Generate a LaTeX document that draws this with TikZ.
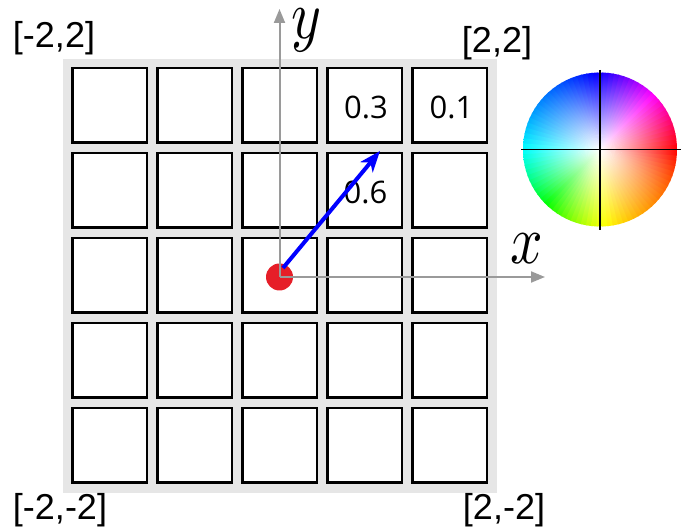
\documentclass[tikz,border=0pt]{standalone}
\usepackage{fontspec}
\usetikzlibrary{arrows.meta}
\newfontfamily\cornerfont{Liberation Sans}
\newfontfamily\cellfont{Open Sans}
\definecolor{bggray}{HTML}{E6E6E6}
\definecolor{axisgray}{HTML}{9A9A9A}
\definecolor{dotred}{HTML}{E61E28}
\begin{document}
\begin{tikzpicture}[x=1pt,y=-1pt,
  cellbox/.style={draw=black, line width=2.5pt, fill=white, minimum size=74.5pt, inner sep=0pt},
  celltext/.style={inner sep=0pt, font=\cellfont\fontsize{31}{31}\selectfont},
  cornerlabel/.style={inner sep=0pt, font=\cornerfont\fontsize{36}{36}\selectfont},
  axislabel/.style={inner sep=0pt},
  axisline/.style={draw=axisgray, line width=2pt, -{Triangle[length=14pt,width=11pt]}},
  vecline/.style={draw=blue, line width=4pt, -{Stealth[length=21pt,width=16pt,inset=6pt]}},
  wheelline/.style={draw=black, line width=1.8pt},
]
\useasboundingbox (0,0) rectangle (681,529);
% board
\fill[bggray] (63,59) rectangle (497,493);
\foreach \i in {0,...,4}{
  \foreach \j in {0,...,4}{
    \node[cellbox] (c-\i-\j) at (109.5+85*\j, 105.5+85*\i) {};
  }
}
\node[celltext] (t03) at ([xshift=1.5pt,yshift=-1.5pt]c-0-3.center) {0.3};
\node[celltext] (t04) at ([xshift=2pt,yshift=-1.5pt]c-0-4.center) {0.1};
\node[celltext] (t13) at ([xshift=1pt,yshift=-1.5pt]c-1-3.center) {0.6};
% origin, axes, vector
\node[circle, fill=dotred, minimum size=27pt, inner sep=0pt] (dot) at (279.5,277) {};
\coordinate (xend) at (545,277);
\coordinate (yend) at (279.5,9);
\coordinate (vtip) at (380,151);
\draw[axisline] (dot.center) -- (xend);
\draw[axisline] (dot.center) -- (yend);
\draw[vecline] ([shift={(3.5,-9)}]dot.center) -- (vtip);
\node[axislabel] (xl) at (527,249) {\scalebox{5.7}[6.9]{$x$}};
\node[axislabel] (yl) at (306,30) {\scalebox{5.7}[6.9]{$y$}};
% corner labels
\node[cornerlabel] (tl) at (54,38) {[-2,2]};
\node[cornerlabel] (tr) at (497,43) {[2,2]};
\node[cornerlabel] (bl) at (60,510) {[-2,-2]};
\node[cornerlabel] (br) at (504,510) {[2,-2]};
% colour wheel
\begin{scope}[shift={(600,149.5)}, yscale=-1]
  \foreach \a in {0,4,...,356}{
    \pgfmathsetmacro\hh{mod(720-(\a+2)-25*sin(\a+2)^2,360)}
    \definecolor{wc}{Hsb}{\hh,1,1}
    \begin{scope}
      \clip (0,0) -- (\a-0.5:79) arc[start angle=\a-0.5, end angle=\a+4.5, radius=79] -- cycle;
      \shade[inner color=white, outer color=wc] (0,0) circle (77);
    \end{scope}
  }
\end{scope}
\draw[wheelline] (600,70) -- (600,230);
\draw[wheelline] (521,149.5) -- (681,149.5);
\end{tikzpicture}
\end{document}
